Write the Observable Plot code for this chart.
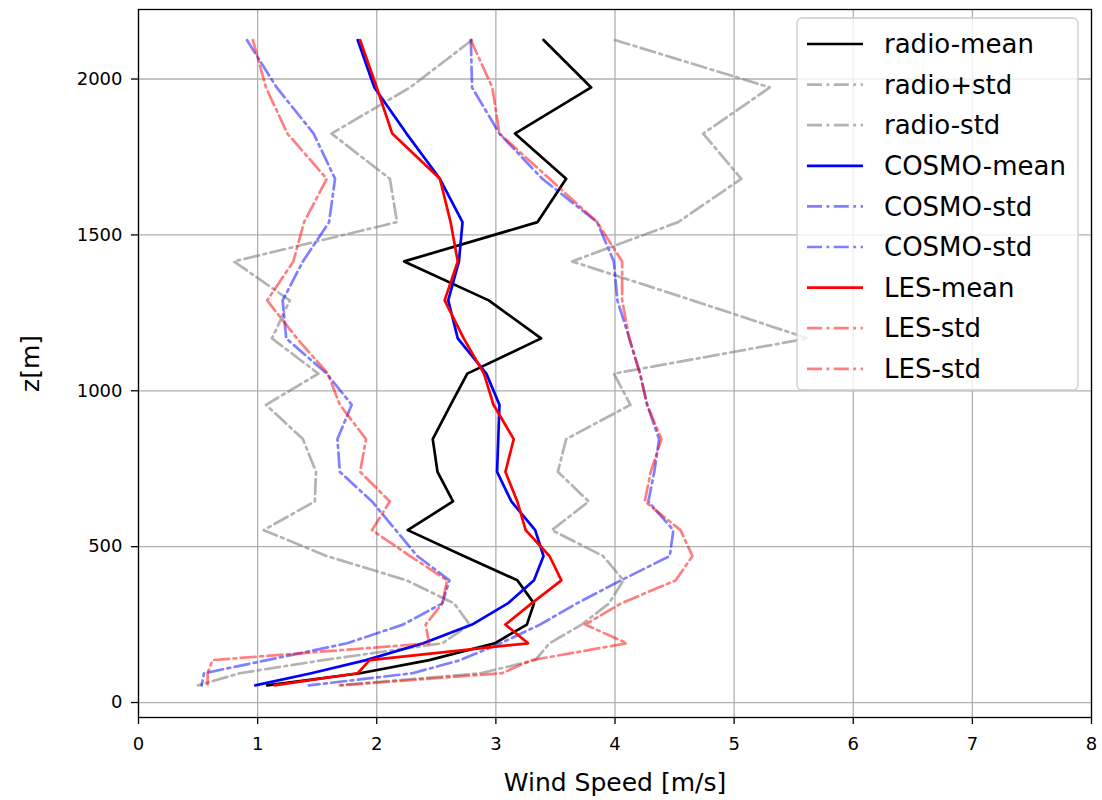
<!DOCTYPE html>
<html><head><meta charset="utf-8">
<script src="https://cdn.jsdelivr.net/npm/d3@7"></script>
<script src="https://cdn.jsdelivr.net/npm/@observablehq/plot@0.6"></script>
<style>html,body{margin:0;padding:0;background:#fff;font-family:"DejaVu Sans",sans-serif}</style>
</head><body><div id="chart"></div>
<script>
// heights [m] shared by all profiles
const heights = [2125,1973,1825,1680,1541,1415,1290,1168,1055,955,845,740,645,553,470,392,318,250,190,136,94,55];
const radioMean  = [3.40,3.80,3.16,3.59,3.35,2.23,2.94,3.38,2.76,2.62,2.47,2.51,2.64,2.26,2.73,3.18,3.32,3.26,2.99,2.44,1.86,1.08];
const radioPlus  = [4.00,5.30,4.74,5.06,4.53,3.64,4.65,5.62,3.99,4.13,3.59,3.52,3.78,3.47,3.90,4.07,3.95,3.72,3.45,3.33,2.87,1.66];
const radioMinus = [2.80,2.28,1.62,2.11,2.17,0.80,1.27,1.12,1.51,1.07,1.38,1.49,1.48,1.05,1.58,2.25,2.65,2.78,2.55,1.55,0.85,0.50];
const cosmoMean  = [1.84,1.98,2.25,2.53,2.72,2.69,2.60,2.68,2.92,3.03,3.02,3.01,3.13,3.33,3.40,3.32,3.10,2.80,2.39,1.91,1.45,0.98];
const cosmoPlus  = [2.79,2.80,3.03,3.39,3.85,3.99,4.02,4.12,4.21,4.27,4.37,4.33,4.28,4.49,4.46,4.05,3.68,3.37,3.04,2.70,2.30,1.43];
const cosmoMinus = [0.91,1.16,1.47,1.65,1.60,1.38,1.21,1.24,1.58,1.79,1.67,1.69,1.96,2.16,2.34,2.61,2.55,2.22,1.75,1.08,0.55,0.53];
const lesMean    = [1.86,2.00,2.13,2.53,2.62,2.68,2.57,2.73,2.90,2.98,3.15,3.08,3.18,3.25,3.45,3.55,3.30,3.08,3.27,1.94,1.84,1.14];
const lesPlus    = [2.79,2.97,3.03,3.45,3.85,4.06,4.06,4.12,4.21,4.27,4.39,4.30,4.25,4.55,4.65,4.51,4.05,3.75,4.10,3.30,3.05,1.70];
const lesMinus   = [0.96,1.07,1.25,1.58,1.39,1.30,1.08,1.33,1.59,1.69,1.91,1.86,2.11,1.96,2.28,2.59,2.55,2.41,2.44,0.62,0.58,0.58];

const seriesNames = ["radio-mean","radio+std","radio-std","COSMO-mean","COSMO-std","COSMO-std","LES-mean","LES-std","LES-std"];
const seriesValues = [radioMean, radioPlus, radioMinus, cosmoMean, cosmoPlus, cosmoMinus, lesMean, lesPlus, lesMinus];
const seriesColors = ["#000000","#808080","#808080","#0000ff","#0000ff","#0000ff","#ff0000","#ff0000","#ff0000"];
const seriesOpacity = [1,0.6,0.6,1,0.5,0.5,1,0.5,0.5];
const seriesDashed = [false,true,true,false,true,true,false,true,true];

const xTicks = [0,1,2,3,4,5,6,7,8];
const yTicks = [0,500,1000,1500,2000];
const xLabel = "Wind Speed [m/s]";
const yLabel = "z[m]";

const DASH = "15,4.5,2.8,4.5";
const TICKFONT = 18;
const LABELFONT = 25;
const LEGENDFONT = 26;

const lineMarks = seriesNames.map((name, k) =>
  Plot.line(heights.map((h, i) => ({z: h, v: seriesValues[k][i]})), {
    x: "v", y: "z",
    stroke: seriesColors[k],
    strokeOpacity: seriesOpacity[k],
    strokeWidth: 2.7,
    strokeDasharray: seriesDashed[k] ? DASH : null,
    strokeLinejoin: "round"
  })
);

const chart = Plot.plot({
  width: 1102, height: 800,
  marginLeft: 138, marginRight: 11, marginTop: 9, marginBottom: 83,
  x: {domain: [0, 8]},
  y: {domain: [-48, 2223]},
  style: {fontFamily: "'DejaVu Sans', sans-serif", fontSize: TICKFONT + "px", color: "black", background: "white"},
  marks: [
    Plot.gridX(xTicks, {stroke: "#b0b0b0", strokeOpacity: 1, strokeWidth: 1.3}),
    Plot.gridY(yTicks, {stroke: "#b0b0b0", strokeOpacity: 1, strokeWidth: 1.3}),
    ...lineMarks,
    Plot.frame({stroke: "black", strokeWidth: 1.3}),
    Plot.axisX({ticks: xTicks, tickSize: 7, tickPadding: 13, fontSize: TICKFONT, label: null, strokeWidth: 1.3, tickFormat: d3.format("d")}),
    Plot.axisY({ticks: yTicks, tickSize: 7, tickPadding: 9, fontSize: TICKFONT, label: null, strokeWidth: 1.3, tickFormat: d3.format("d")}),
    Plot.text([xLabel], {text: d => d, frameAnchor: "bottom", textAnchor: "middle", lineAnchor: "middle", dy: 65, fontSize: LABELFONT}),
    Plot.text([yLabel], {text: d => d, frameAnchor: "left", textAnchor: "middle", lineAnchor: "middle", dx: -108, rotate: -90, fontSize: LABELFONT})
  ]
});

// legend inside the axes (upper right)
const svg = d3.select(chart);
const lg = svg.append("g").attr("font-family", "'DejaVu Sans', sans-serif").attr("font-size", LEGENDFONT).attr("text-anchor", "start");
lg.append("rect").attr("x", 797).attr("y", 18).attr("width", 281).attr("height", 372)
  .attr("rx", 5).attr("fill", "white").attr("fill-opacity", 0.8).attr("stroke", "#cccccc").attr("stroke-width", 1.3);
seriesNames.forEach((name, i) => {
  const cy = 44 + i * 40.6;
  lg.append("line").attr("x1", 807).attr("x2", 863).attr("y1", cy).attr("y2", cy)
    .attr("stroke", seriesColors[i]).attr("stroke-opacity", seriesOpacity[i]).attr("stroke-width", 2.7)
    .attr("stroke-dasharray", seriesDashed[i] ? DASH : null);
  lg.append("text").attr("x", 884).attr("y", cy).attr("dy", "0.35em").attr("text-anchor", "start").attr("fill", "black").text(name);
});

document.getElementById("chart").appendChild(chart);
</script>
</body></html>
